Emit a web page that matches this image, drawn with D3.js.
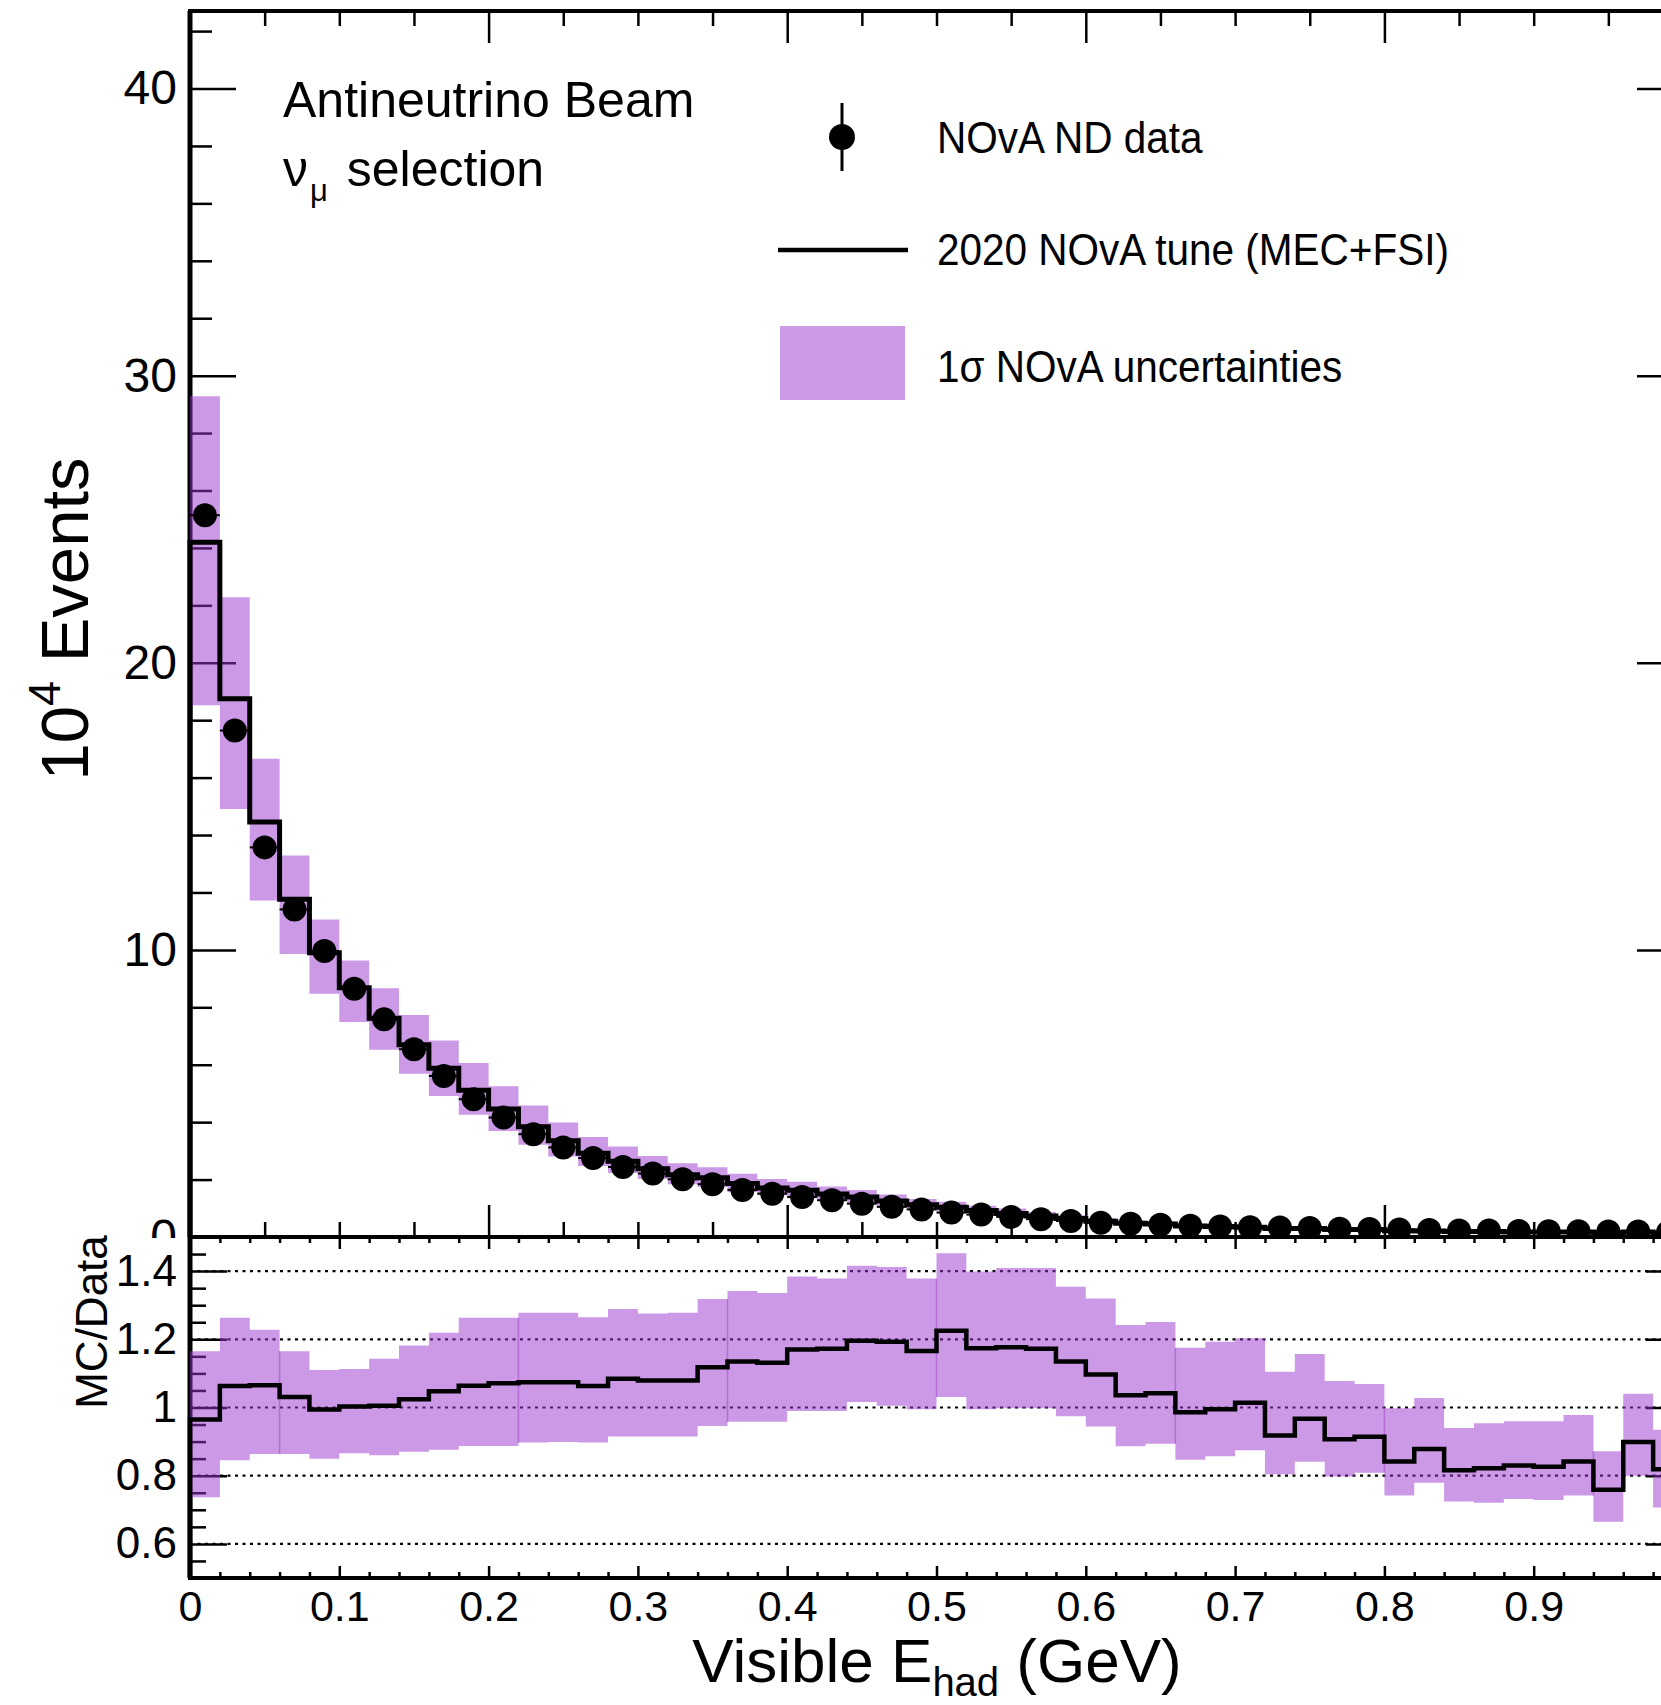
<!DOCTYPE html>
<html>
<head>
<meta charset="utf-8">
<title>NOvA ND - Visible hadronic energy, antineutrino beam</title>
<script src="https://d3js.org/d3.v7.min.js"></script>
<style>
  body { margin: 0; background: #fff; }
  svg text { font-family: "Liberation Sans", Arial, Helvetica, sans-serif; fill: #000; }
</style>
</head>
<body>
<svg id="chart" width="1661" height="1705"></svg>
<script>
// 50 bins of 0.02 GeV
const binEdges = [0, 0.02, 0.04, 0.06, 0.08, 0.1, 0.12, 0.14, 0.16, 0.18, 0.2, 0.22, 0.24, 0.26, 0.28, 0.3,
  0.32, 0.34, 0.36, 0.38, 0.4, 0.42, 0.44, 0.46, 0.48, 0.5, 0.52, 0.54, 0.56, 0.58, 0.6, 0.62, 0.64, 0.66,
  0.68, 0.7, 0.72, 0.74, 0.76, 0.78, 0.8, 0.82, 0.84, 0.86, 0.88, 0.9, 0.92, 0.94, 0.96, 0.98, 1];

// top panel, units of 10^4 events
const dataEvents = [25.14, 17.64, 13.57, 11.41, 9.96, 8.65, 7.58, 6.54, 5.61, 4.80, 4.16, 3.58, 3.12, 2.75,
  2.44, 2.21, 2.01, 1.84, 1.64, 1.51, 1.39, 1.28, 1.16, 1.05, 0.96, 0.85, 0.78, 0.70, 0.62, 0.56, 0.50,
  0.46, 0.43, 0.39, 0.37, 0.34, 0.33, 0.31, 0.29, 0.28, 0.26, 0.24, 0.23, 0.23, 0.21, 0.20, 0.20, 0.19,
  0.19, 0.17];
const mcEvents = [24.2, 18.75, 14.45, 11.76, 9.90, 8.68, 7.62, 6.70, 5.88, 5.11, 4.46, 3.84, 3.35, 2.92,
  2.64, 2.38, 2.17, 2.06, 1.86, 1.71, 1.63, 1.50, 1.39, 1.25, 1.12, 1.04, 0.92, 0.82, 0.73, 0.64, 0.55,
  0.48, 0.45, 0.38, 0.37, 0.34, 0.30, 0.30, 0.26, 0.26, 0.22, 0.21, 0.19, 0.19, 0.17, 0.17, 0.17, 0.14,
  0.17, 0.14];
const bandHigh = [29.28, 22.28, 16.66, 13.29, 11.06, 9.63, 8.66, 7.73, 6.84, 6.06, 5.25, 4.58, 3.99, 3.48,
  3.15, 2.82, 2.57, 2.43, 2.20, 2.02, 1.92, 1.76, 1.64, 1.48, 1.32, 1.23, 1.09, 0.99, 0.87, 0.76, 0.66,
  0.57, 0.54, 0.46, 0.44, 0.41, 0.36, 0.36, 0.31, 0.30, 0.26, 0.25, 0.22, 0.22, 0.20, 0.19, 0.20, 0.17,
  0.20, 0.16];
const bandLow = [18.52, 14.91, 11.72, 9.86, 8.47, 7.49, 6.52, 5.69, 4.91, 4.26, 3.69, 3.21, 2.80, 2.47,
  2.23, 2.02, 1.84, 1.74, 1.57, 1.45, 1.38, 1.27, 1.18, 1.06, 0.96, 0.88, 0.78, 0.70, 0.62, 0.55, 0.47,
  0.41, 0.38, 0.33, 0.32, 0.30, 0.27, 0.26, 0.23, 0.23, 0.19, 0.19, 0.17, 0.17, 0.15, 0.15, 0.15, 0.13,
  0.15, 0.12];

// ratio panel, MC/Data
const ratioMC = [0.965, 1.063, 1.065, 1.031, 0.994, 1.003, 1.005, 1.024, 1.048, 1.064, 1.071, 1.074, 1.074,
  1.063, 1.084, 1.079, 1.079, 1.118, 1.135, 1.131, 1.170, 1.172, 1.196, 1.193, 1.166, 1.225, 1.174, 1.177,
  1.172, 1.135, 1.097, 1.036, 1.042, 0.986, 0.995, 1.014, 0.918, 0.967, 0.907, 0.914, 0.842, 0.878, 0.816,
  0.822, 0.830, 0.826, 0.842, 0.759, 0.899, 0.819];
const ratioHigh = [1.165, 1.263, 1.228, 1.165, 1.110, 1.113, 1.143, 1.182, 1.219, 1.263, 1.263, 1.278, 1.278,
  1.265, 1.289, 1.276, 1.278, 1.318, 1.342, 1.336, 1.384, 1.378, 1.416, 1.412, 1.378, 1.452, 1.399, 1.409,
  1.409, 1.354, 1.320, 1.242, 1.251, 1.175, 1.193, 1.203, 1.105, 1.157, 1.078, 1.069, 0.998, 1.028, 0.940,
  0.954, 0.960, 0.960, 0.978, 0.872, 1.040, 0.935];
const ratioLow = [0.737, 0.845, 0.864, 0.864, 0.850, 0.866, 0.860, 0.870, 0.876, 0.887, 0.887, 0.897, 0.899,
  0.897, 0.915, 0.915, 0.915, 0.946, 0.958, 0.958, 0.990, 0.990, 1.016, 1.005, 0.995, 1.031, 0.995, 0.998,
  0.998, 0.974, 0.944, 0.886, 0.894, 0.847, 0.857, 0.875, 0.804, 0.841, 0.798, 0.809, 0.742, 0.779, 0.724,
  0.721, 0.732, 0.729, 0.742, 0.665, 0.800, 0.707];
// bin edges where the ratio band shows a faint seam
const ratioSeams = [0.06, 0.22, 0.36, 0.5, 0.66, 0.8, 0.94];

// ticks and labels
const topYTicks = [0, 10, 20, 30, 40];
const ratioYTicks = [0.6, 0.8, 1, 1.2, 1.4];
const ratioYLabels = ['0.6', '0.8', '1', '1.2', '1.4'];
const xTicks = [0, 0.1, 0.2, 0.3, 0.4, 0.5, 0.6, 0.7, 0.8, 0.9];
const xLabels = ['0', '0.1', '0.2', '0.3', '0.4', '0.5', '0.6', '0.7', '0.8', '0.9'];

const bandFill = 'rgba(153, 51, 205, 0.5)';

const svg = d3.select('#chart');
const x = d3.scaleLinear().domain([0, 1]).range([190, 1683]);
const yTop = d3.scaleLinear().domain([0, 42.7]).range([1237, 11]);
const yRatio = d3.scaleLinear().domain([0.5, 1.5]).range([1578, 1237]);

function styleAxis(g, fontSize) {
    g.select('.domain').remove();
    g.attr('font-family', null).attr('font-size', fontSize);
    g.selectAll('.tick line').attr('stroke', '#000').attr('stroke-width', 2.5);
    g.selectAll('.tick text').attr('fill', '#000');
}

function addAxis(axis, tx, ty, fontSize) {
    const g = svg.append('g').attr('transform', `translate(${tx},${ty})`).call(axis);
    styleAxis(g, fontSize || 10);
    return g;
}

function stepLine(values, base) {
    const pts = [[binEdges[0], base]];
    values.forEach((v, i) => {
        pts.push([binEdges[i], v]);
        pts.push([binEdges[i + 1], v]);
    });
    pts.push([binEdges[binEdges.length - 1], base]);
    return pts;
}

function stepBand(lo, hi) {
    const pts = [];
    lo.forEach((l, i) => {
        pts.push({ x: binEdges[i], lo: l, hi: hi[i] });
        pts.push({ x: binEdges[i + 1], lo: l, hi: hi[i] });
    });
    return pts;
}

const edgeIndex = v => binEdges.findIndex(e => Math.abs(e - v) < 1e-9);

// ---------- top panel ----------
const topMinorY = d3.range(2, 43, 2).filter(v => v % 10 !== 0);
const topMajorX = [0, 0.2, 0.4, 0.6, 0.8, 1];
const topMinorX = d3.range(0.05, 1, 0.05).filter(v => Math.abs(v * 5 - Math.round(v * 5)) > 1e-6);

addAxis(d3.axisLeft(yTop).tickValues(topYTicks).tickSize(-46).tickPadding(13).tickFormat(d3.format('d')), 190, 0, 48);
addAxis(d3.axisLeft(yTop).tickValues(topMinorY).tickSize(-22).tickFormat(''), 190, 0);
addAxis(d3.axisRight(yTop).tickValues(topYTicks).tickSize(-46).tickFormat(''), 1683, 0);
addAxis(d3.axisRight(yTop).tickValues(topMinorY).tickSize(-22).tickFormat(''), 1683, 0);
addAxis(d3.axisTop(x).tickValues(topMajorX).tickSize(-32).tickFormat(''), 0, 11);
addAxis(d3.axisTop(x).tickValues(topMinorX).tickSize(-15).tickFormat(''), 0, 11);
addAxis(d3.axisBottom(x).tickValues(topMajorX).tickSize(-32).tickFormat(''), 0, 1237);
addAxis(d3.axisBottom(x).tickValues(topMinorX).tickSize(-15).tickFormat(''), 0, 1237);

svg.append('rect')
    .attr('x', x(0)).attr('y', yTop(42.7))
    .attr('width', x(1) - x(0)).attr('height', yTop(0) - yTop(42.7))
    .attr('fill', 'none').attr('stroke', '#000').attr('stroke-width', 4);
svg.append('line')
    .attr('x1', x(0)).attr('x2', x(0)).attr('y1', yTop(42.7)).attr('y2', yTop(0))
    .attr('stroke', '#000').attr('stroke-width', 5);

svg.append('path')
    .datum(stepBand(bandLow, bandHigh))
    .attr('fill', bandFill)
    .attr('d', d3.area().x(d => x(d.x)).y0(d => yTop(d.lo)).y1(d => yTop(d.hi)));

svg.append('path')
    .datum(stepLine(mcEvents, 0))
    .attr('fill', 'none').attr('stroke', '#000').attr('stroke-width', 5)
    .attr('d', d3.line().x(d => x(d[0])).y(d => yTop(d[1])));

const points = svg.append('g');
dataEvents.forEach((v, i) => {
    const cx = x((binEdges[i] + binEdges[i + 1]) / 2);
    points.append('line')
        .attr('x1', x(binEdges[i])).attr('x2', x(binEdges[i + 1]))
        .attr('y1', yTop(v)).attr('y2', yTop(v))
        .attr('stroke', '#000').attr('stroke-width', 2);
    points.append('circle').attr('cx', cx).attr('cy', yTop(v)).attr('r', 12).attr('fill', '#000');
});

// labels inside top panel
svg.append('text').attr('x', 283).attr('y', 117).attr('font-size', 50).text('Antineutrino Beam');
const sel = svg.append('text').attr('x', 283).attr('y', 186).attr('font-size', 50);
sel.append('tspan').text('\u03BD');
sel.append('tspan').attr('font-size', 31).attr('dy', 15).attr('dx', 2).text('\u03BC');
sel.append('tspan').attr('dy', -15).attr('dx', 5).text(' selection');

// legend
const legend = svg.append('g');
legend.append('line').attr('x1', 842).attr('x2', 842).attr('y1', 103).attr('y2', 171)
    .attr('stroke', '#000').attr('stroke-width', 3);
legend.append('circle').attr('cx', 842).attr('cy', 137).attr('r', 13).attr('fill', '#000');
legend.append('line').attr('x1', 778).attr('x2', 908).attr('y1', 250).attr('y2', 250)
    .attr('stroke', '#000').attr('stroke-width', 4.5);
legend.append('rect').attr('x', 780).attr('y', 326).attr('width', 125).attr('height', 74)
    .attr('fill', bandFill);
const legendItems = [
    { y: 137, label: 'NOvA ND data' },
    { y: 249, label: '2020 NOvA tune (MEC+FSI)' },
    { y: 366, label: '1\u03C3 NOvA uncertainties' }
];
legendItems.forEach(item => {
    legend.append('text')
        .attr('transform', `translate(937,${item.y}) scale(0.9,1)`)
        .attr('dy', '0.36em').attr('font-size', 45)
        .text(item.label);
});

// y axis title
const yTitle = svg.append('text')
    .attr('transform', 'translate(88,619) rotate(-90)')
    .attr('text-anchor', 'middle').attr('font-size', 67);
yTitle.append('tspan').text('10');
yTitle.append('tspan').attr('font-size', 45).attr('dy', -28).text('4');
yTitle.append('tspan').attr('dy', 28).text(' Events');

// ---------- ratio panel ----------
svg.append('rect').attr('x', 0).attr('y', 1238).attr('width', 1661).attr('height', 467).attr('fill', '#fff');

const ratioMinorY = d3.range(0.55, 1.5, 0.05).filter(v => Math.abs(v * 5 - Math.round(v * 5)) > 1e-6);
const ratioMinorX = d3.range(0.02, 1, 0.02).filter(v => Math.abs(v * 10 - Math.round(v * 10)) > 1e-6);
const ratioMajorX = [0, 0.1, 0.2, 0.3, 0.4, 0.5, 0.6, 0.7, 0.8, 0.9, 1];

const labelIndex = v => xTicks.findIndex(t => Math.abs(t - v) < 1e-9);
addAxis(d3.axisBottom(x).tickValues(xTicks).tickSize(-12).tickPadding(12)
    .tickFormat(v => xLabels[labelIndex(v)]), 0, 1578, 43);
addAxis(d3.axisBottom(x).tickValues([1]).tickSize(-12).tickFormat(''), 0, 1578);
addAxis(d3.axisBottom(x).tickValues(ratioMinorX).tickSize(-6).tickFormat(''), 0, 1578);
addAxis(d3.axisTop(x).tickValues(ratioMajorX).tickSize(-12).tickFormat(''), 0, 1237);
addAxis(d3.axisTop(x).tickValues(ratioMinorX).tickSize(-6).tickFormat(''), 0, 1237);

const rIndex = v => ratioYTicks.findIndex(t => Math.abs(t - v) < 1e-9);
addAxis(d3.axisLeft(yRatio).tickValues(ratioYTicks).tickSize(-37).tickPadding(13)
    .tickFormat(v => ratioYLabels[rIndex(v)]), 190, 0, 44);
addAxis(d3.axisLeft(yRatio).tickValues(ratioMinorY).tickSize(-16).tickFormat(''), 190, 0);
addAxis(d3.axisRight(yRatio).tickValues(ratioYTicks).tickSize(-37).tickFormat(''), 1683, 0);
addAxis(d3.axisRight(yRatio).tickValues(ratioMinorY).tickSize(-16).tickFormat(''), 1683, 0);

// dotted reference lines
svg.append('g').selectAll('line').data(ratioYTicks).join('line')
    .attr('x1', x(0)).attr('x2', x(1))
    .attr('y1', d => yRatio(d)).attr('y2', d => yRatio(d))
    .attr('stroke', '#000').attr('stroke-width', 2.2).attr('stroke-dasharray', '3,4.5');

svg.append('rect')
    .attr('x', x(0)).attr('y', yRatio(1.5))
    .attr('width', x(1) - x(0)).attr('height', yRatio(0.5) - yRatio(1.5))
    .attr('fill', 'none').attr('stroke', '#000').attr('stroke-width', 4);
svg.append('line')
    .attr('x1', x(0)).attr('x2', x(0)).attr('y1', yRatio(1.5)).attr('y2', yRatio(0.5))
    .attr('stroke', '#000').attr('stroke-width', 5);

svg.append('path')
    .datum(stepBand(ratioLow, ratioHigh))
    .attr('fill', bandFill)
    .attr('d', d3.area().x(d => x(d.x)).y0(d => yRatio(d.lo)).y1(d => yRatio(d.hi)));

// faint seams inside the band
svg.append('g').selectAll('line').data(ratioSeams).join('line')
    .attr('x1', d => x(d)).attr('x2', d => x(d))
    .attr('y1', d => { const i = edgeIndex(d); return yRatio(Math.min(ratioHigh[i - 1], ratioHigh[i])); })
    .attr('y2', d => { const i = edgeIndex(d); return yRatio(Math.max(ratioLow[i - 1], ratioLow[i])); })
    .attr('stroke', 'rgba(153, 51, 205, 0.45)').attr('stroke-width', 1.5);

svg.append('path')
    .datum(stepLine(ratioMC, 0.5))
    .attr('fill', 'none').attr('stroke', '#000').attr('stroke-width', 4.5)
    .attr('d', d3.line().x(d => x(d[0])).y(d => yRatio(d[1])));

svg.append('text')
    .attr('transform', 'translate(107,1322) rotate(-90)')
    .attr('text-anchor', 'middle').attr('font-size', 44)
    .text('MC/Data');

// x axis title
const xTitle = svg.append('text')
    .attr('x', 937).attr('y', 1682)
    .attr('text-anchor', 'middle').attr('font-size', 62);
xTitle.append('tspan').text('Visible E');
xTitle.append('tspan').attr('font-size', 40).attr('dy', 14).text('had');
xTitle.append('tspan').attr('dy', -14).text(' (GeV)');
</script>
</body>
</html>
